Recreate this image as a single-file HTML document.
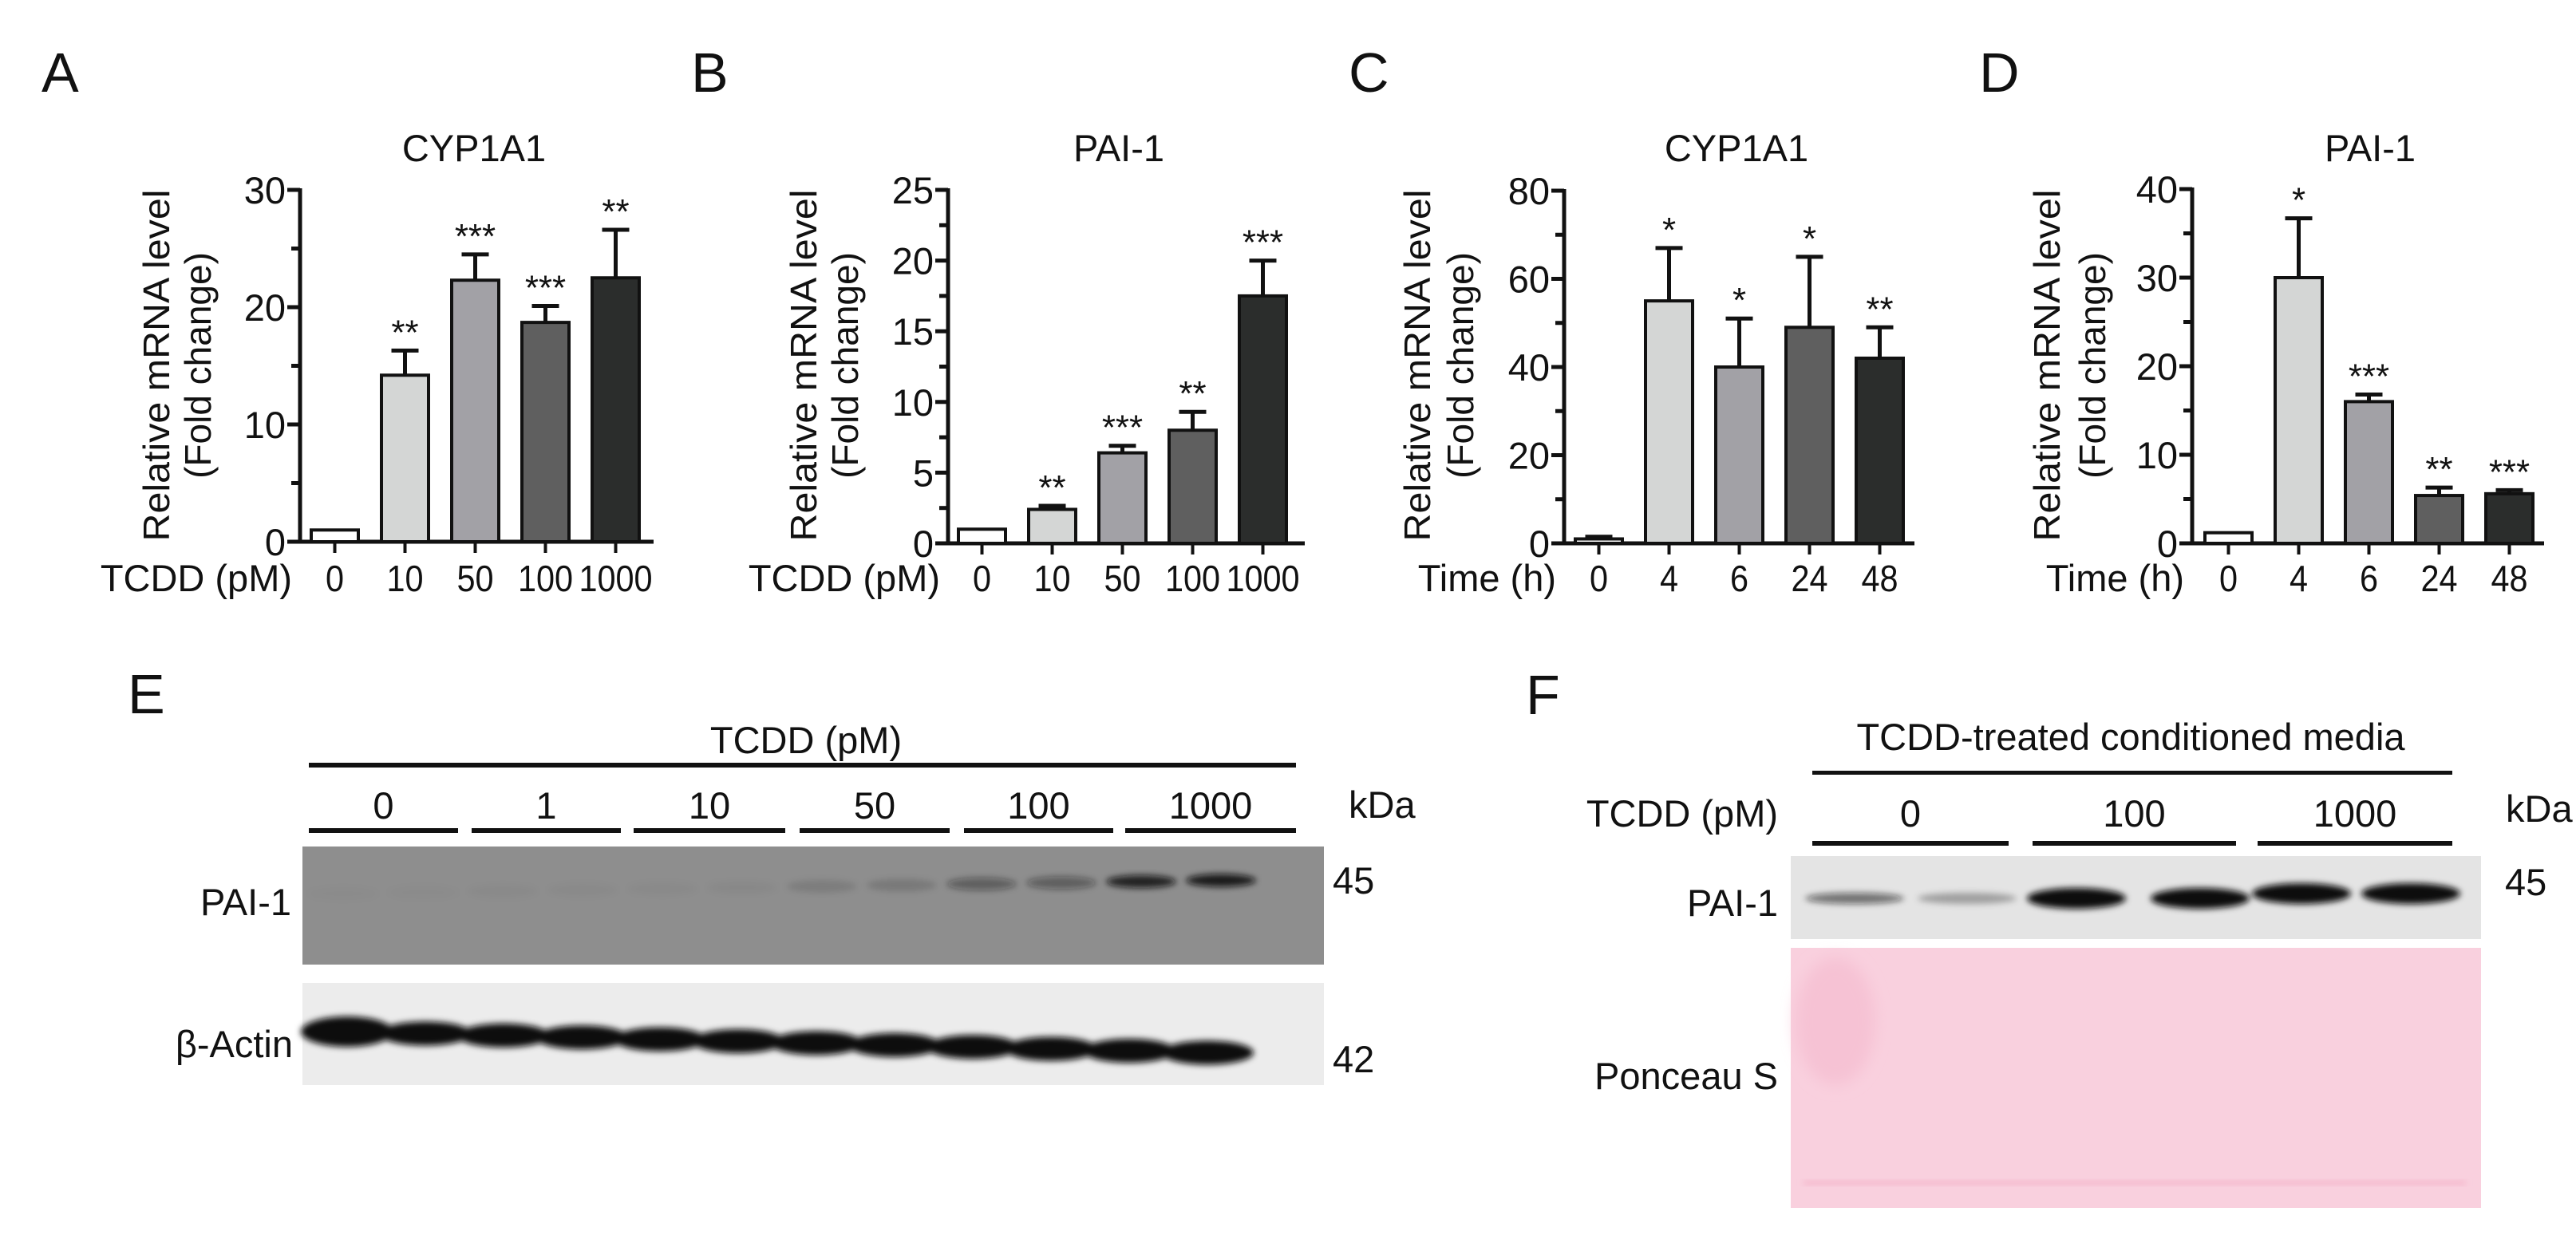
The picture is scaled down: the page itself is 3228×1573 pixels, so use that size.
<!DOCTYPE html>
<html><head><meta charset="utf-8"><style>
html,body{margin:0;padding:0;background:#fff;}
svg{display:block;}
text{font-family:"Liberation Sans",sans-serif;fill:#111;}
</style></head><body>
<svg id="fig" width="3228" height="1573" viewBox="0 0 3228 1573" xmlns="http://www.w3.org/2000/svg">
<defs>
<filter id="b4" x="-20%" y="-50%" width="140%" height="200%"><feGaussianBlur stdDeviation="4"/></filter>
<filter id="b8" x="-20%" y="-50%" width="140%" height="200%"><feGaussianBlur stdDeviation="9"/></filter>
</defs>
<g id="charts"></g>

<!-- Panel E -->
<g>
<text class="n" x="160" y="894" font-size="70">E</text>
<text class="n" x="1010" y="944" font-size="47" text-anchor="middle">TCDD (pM)</text>
<rect x="387" y="956" width="1237" height="6" fill="#111"/>
<g id="eLanes"></g>
<text class="n" x="1690" y="1025" font-size="47">kDa</text>
<rect x="379" y="1061" width="1280" height="148" fill="#8e8e8e"/>
<g id="eBands"></g>
<text class="n" x="365" y="1147" font-size="47" text-anchor="end">PAI-1</text>
<text class="n" x="1670" y="1120" font-size="47">45</text>
<rect x="379" y="1232" width="1280" height="128" fill="#ececec"/>
<g id="aBands" filter="url(#b4)"></g>
<text class="n" x="367" y="1325" font-size="47" text-anchor="end">β-Actin</text>
<text class="n" x="1670" y="1344" font-size="47">42</text>
</g>

<!-- Panel F -->
<g>
<text class="n" x="1912" y="895" font-size="70">F</text>
<text class="n" x="2670" y="940" font-size="47" text-anchor="middle">TCDD-treated conditioned media</text>
<rect x="2271" y="966" width="802" height="5" fill="#111"/>
<text class="n" x="2228" y="1036" font-size="47" text-anchor="end">TCDD (pM)</text>
<g id="fLanes"></g>
<text class="n" x="3140" y="1030" font-size="47">kDa</text>
<rect x="2244" y="1073" width="865" height="104" fill="#e4e4e4"/>
<g id="fBands" filter="url(#b4)"></g>
<text class="n" x="2228" y="1148" font-size="47" text-anchor="end">PAI-1</text>
<text class="n" x="3139" y="1122" font-size="47">45</text>
<rect x="2244" y="1188" width="865" height="326" fill="#f9d0de"/>
<ellipse cx="2300" cy="1280" rx="50" ry="80" fill="#f6c2d4" filter="url(#b8)"/>
<rect x="2260" y="1480" width="830" height="5" fill="#f4b4c9" filter="url(#b4)"/>
<text class="n" x="2228" y="1365" font-size="47" text-anchor="end">Ponceau S</text>
</g>
</svg>
<script>
const NS='http://www.w3.org/2000/svg';
const colors=['#ffffff','#d4d6d5','#a2a1a6','#5f5f5f','#2b2d2c'];
// Panel A data
const catsA=['0','10','50','100','1000'];
const valsA=[1,14.2,22.3,18.7,22.5];
const errA=[0,2.1,2.2,1.4,4.1];
const starsA=['','**','***','***','**'];
// Panel B data
const catsB=['0','10','50','100','1000'];
const valsB=[1,2.4,6.4,8.0,17.5];
const errB=[0,0.25,0.5,1.3,2.5];
const starsB=['','**','***','**','***'];
// Panel C data
const catsC=['0','4','6','24','48'];
const valsC=[1,55,40,49,42];
const errC=[0.5,12,11,16,7];
const starsC=['','*','*','*','**'];
// Panel D data
const catsD=['0','4','6','24','48'];
const valsD=[1.2,30,16,5.4,5.6];
const errD=[0,6.7,0.8,0.9,0.4];
const starsD=['','*','***','**','***'];
// Tick values
const ticksA=[0,10,20,30], ticksB=[0,5,10,15,20,25], ticksC=[0,20,40,60,80], ticksD=[0,10,20,30,40];
// Blot data
const lanesE=['0','1','10','50','100','1000'];
const lanesF=['0','100','1000'];
const paiE=[0.02,0.02,0.03,0.03,0.03,0.04,0.12,0.15,0.4,0.4,0.85,0.9];
const paiF=[0.55,0.3,1,1,1,1];

const root=document.getElementById('charts');
function el(tag,attrs,parent,txt){const e=document.createElementNS(NS,tag);for(const k in attrs)e.setAttribute(k,attrs[k]);if(txt!==undefined)e.textContent=txt;(parent||root).appendChild(e);return e;}

function chart(o){
  const g=el('g',{});
  
  
  const y=v=>o.y0-(v/o.max)*(o.y0-o.yTop);
  const bx=i=>o.bar0+i*88;
  const L=el('text',{x:o.letterX,y:115,'font-size':70,class:'n'},g,o.letter);
  
  
  const T=el('text',{x:o.titleX,y:202,'font-size':47,'text-anchor':'middle',class:'n'},g,o.title);
  
  
  const l1=el('text',{x:0,y:0,'font-size':46,'text-anchor':'middle',textLength:441,lengthAdjust:'spacingAndGlyphs',transform:`translate(${o.ylx1+16},458) rotate(-90)`},g,'Relative mRNA level');
  
  
  const l2=el('text',{x:0,y:0,'font-size':46,'text-anchor':'middle',transform:`translate(${o.ylx2+16},458) rotate(-90)`},g,'(Fold change)');
  
  
  const ya=el('line',{x1:o.ax,y1:o.yTop-2,x2:o.ax,y2:o.y0+2,stroke:'#111','stroke-width':5},g);
  
  
  const xa=el('line',{x1:o.ax-12,y1:o.y0,x2:o.xEnd,y2:o.y0,stroke:'#111','stroke-width':5},g);
  
  
  const step=o.ticks[1]-o.ticks[0];
  for(let v=0;v<=o.max+1e-9;v+=step/2){
    const major=o.ticks.some(t=>Math.abs(t-v)<1e-9);
    el('line',{x1:o.ax-(major?16:11),y1:y(v),x2:o.ax,y2:y(v),stroke:'#111','stroke-width':5},g);
  }
  o.ticks.forEach(t=>{const e=el('text',{x:o.ax-18,y:y(t)+17,'font-size':47,'text-anchor':'end',class:'n'},g,String(t));
    
    });
  const xl=el('text',{x:o.ax-10,y:741,'font-size':47,'text-anchor':'end',class:'n'},g,o.xlabel);
  
  
  o.vals.forEach((v,i)=>{
    const x=bx(i),cx=x+29.5;
    const r=el('rect',{x:x,y:y(v),width:59,height:o.y0-y(v),fill:colors[i],stroke:'#111','stroke-width':4},g);
    
    
    if(o.err[i]>0){
      const te=y(v+o.err[i]);
      el('line',{x1:cx,y1:y(v),x2:cx,y2:te,stroke:'#111','stroke-width':5},g);
      el('line',{x1:cx-17,y1:te,x2:cx+17,y2:te,stroke:'#111','stroke-width':5},g);
    }
    if(o.stars[i]){const s=el('text',{x:cx,y:y(v+o.err[i])-8,'font-size':44,'text-anchor':'middle'},g,o.stars[i]);
      
      }
    el('line',{x1:cx,y1:o.y0,x2:cx,y2:o.y0+14,stroke:'#111','stroke-width':4},g);
    const c=el('text',{x:cx,y:741,'font-size':46,'text-anchor':'middle',class:'t'},g,o.cats[i]);
    
    
  });
}
chart({name:'chart-a-cyp1a1',letter:'A',letterX:52,title:'CYP1A1',titleX:594,ax:376,y0:679,yTop:238,max:30,ticks:ticksA,bar0:390,xEnd:819,cats:catsA,vals:valsA,err:errA,stars:starsA,xlabel:'TCDD (pM)',ylx1:196,ylx2:248});
chart({name:'chart-b-pai1',letter:'B',letterX:866,title:'PAI-1',titleX:1402,ax:1188,y0:681,yTop:238,max:25,ticks:ticksB,bar0:1201,xEnd:1635,cats:catsB,vals:valsB,err:errB,stars:starsB,xlabel:'TCDD (pM)',ylx1:1007,ylx2:1059});
chart({name:'chart-c-cyp1a1-time',letter:'C',letterX:1690,title:'CYP1A1',titleX:2176,ax:1960,y0:681,yTop:239,max:80,ticks:ticksC,bar0:1974,xEnd:2399,cats:catsC,vals:valsC,err:errC,stars:starsC,xlabel:'Time (h)',ylx1:1776,ylx2:1830});
chart({name:'chart-d-pai1-time',letter:'D',letterX:2480,title:'PAI-1',titleX:2970,ax:2747,y0:681,yTop:237,max:40,ticks:ticksD,bar0:2763,xEnd:3188,cats:catsD,vals:valsD,err:errD,stars:starsD,xlabel:'Time (h)',ylx1:2565,ylx2:2622});

const eSeg=[[387,574],[591,778],[794,984],[1002,1190],[1208,1395],[1410,1624]];
const eL=document.getElementById('eLanes');
lanesE.forEach((t,i)=>{
  const s=eSeg[i];
  const tx=el('text',{x:(s[0]+s[1])/2,y:1026,'font-size':47,'text-anchor':'middle',class:'n'},eL,t);
  
  
  el('rect',{x:s[0],y:1038,width:s[1]-s[0],height:6,fill:'#111'},eL);
});
const eB=document.getElementById('eBands');
paiE.forEach((a,i)=>{
  const cx=430+i*100;
  const b=el('ellipse',{cx:cx,cy:1120-i*1.5,rx:44,ry:8,fill:'#111','fill-opacity':a,filter:'url(#b4)'},eB);
  
  
});
const aB=document.getElementById('aBands');
for(let i=0;i<12;i++){
  const b=el('ellipse',{cx:435+i*98,cy:1293+i*2.4,rx:58,ry:(i==0?19:15),fill:'#111'},aB);
  
  
}
const fSeg=[[2271,2517],[2547,2802],[2829,3073]];
const fL=document.getElementById('fLanes');
lanesF.forEach((t,i)=>{
  const s=fSeg[i];
  const tx=el('text',{x:(s[0]+s[1])/2,y:1036,'font-size':47,'text-anchor':'middle',class:'n'},fL,t);
  
  
  el('rect',{x:s[0],y:1054,width:s[1]-s[0],height:6,fill:'#111'},fL);
});
const fB=document.getElementById('fBands');
const fx=[2324,2465,2602,2757,2884,3021];
paiF.forEach((a,i)=>{
  const b=el('ellipse',{cx:fx[i],cy:1126-(i>=4?6:0),rx:62,ry:a>0.9?13:7,fill:'#111','fill-opacity':a},fB);
  
  
});
// slightly condense x tick labels so adjacent labels don't collide
document.querySelectorAll('text.t').forEach(t=>{
  const x=t.getAttribute('x'),y=t.getAttribute('y');
  t.setAttribute('x',0);t.setAttribute('y',0);
  t.setAttribute('transform',`translate(${x},${y}) scale(0.9,1)`);
});
</script>
</body></html>
